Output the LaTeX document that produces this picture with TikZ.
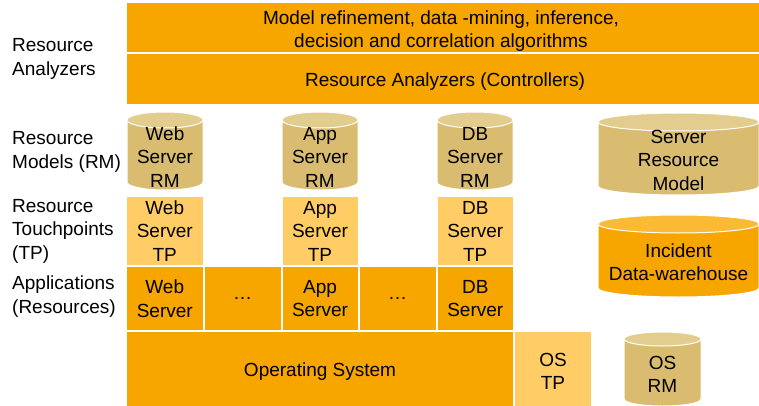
\documentclass[tikz,border=0pt]{standalone}
\usepackage{fontspec}
\setmainfont{Liberation Sans}
\definecolor{layer}{RGB}{247,166,0}
\definecolor{touch}{RGB}{255,204,102}
\definecolor{model}{RGB}{217,188,112}
\definecolor{modeltop}{RGB}{227,205,142}
\definecolor{storetop}{RGB}{250,186,52}
\tikzset{
  txt/.style={font=\fontsize{19}{23.5}\selectfont, align=center, inner sep=0pt},
  box/.style={txt, draw=white, line width=2pt, fill=layer},
  tpbox/.style={box, fill=touch},
  side/.style={txt, align=left, anchor=west},
}
% drum: centre x, top y, bottom y, x radius, y radius, body colour, lid colour
\newcommand{\drum}[7]{%
  \filldraw[draw=white, line width=1pt, fill=#6]
    (#1-#4,#2+#5) -- (#1-#4,#3-#5)
    arc[start angle=180, end angle=0, x radius=#4, y radius=#5]
    -- (#1+#4,#2+#5)
    arc[start angle=0, end angle=-180, x radius=#4, y radius=#5] -- cycle;
  \filldraw[draw=white, line width=1pt, fill=#7] (#1,#2+#5) ellipse[x radius=#4, y radius=#5];
}

\begin{document}
\begin{tikzpicture}[x=1pt, y=-1pt]
    \useasboundingbox (0,0) rectangle (759,406);

    % left hand labels
    \node[side] (lblana) at (12,59) {Resource\\Analyzers};
    \node[side] (lblrm) at (12,152) {Resource\\Models (RM)};
    \node[side] (lbltp) at (12,231) {Resource\\Touchpoints\\(TP)};
    \node[side] (lblapp) at (12,296.5) {Applications\\(Resources)};

    % analyzer bands
    \node[box, minimum width=635, minimum height=51.5] (algo) at (443.5,27.75) {};
    \node[box, minimum width=635, minimum height=51.5] (ctrl) at (443.5,79.25) {};
    \node[txt] (algotext) at (441,31) {Model refinement, data -mining, inference,\\decision and correlation algorithms};
    \node[txt] (ctrltext) at (445,82) {Resource Analyzers (Controllers)};

    % resource models
    \drum{165}{112}{190}{38}{8}{model}{modeltop}
    \drum{320}{112}{190}{38}{8}{model}{modeltop}
    \drum{475}{112}{190}{38}{8}{model}{modeltop}
    \drum{678.5}{113}{195}{80.5}{9}{model}{modeltop}
    \drum{678.5}{215}{297}{80.5}{9}{layer}{storetop}
    \drum{662.5}{332}{406}{38.5}{7}{model}{modeltop}
    \node[txt] (webrm) at (165,157) {Web\\Server\\RM};
    \node[txt] (apprm) at (320,157) {App\\Server\\RM};
    \node[txt] (dbrm) at (475,157) {DB\\Server\\RM};
    \node[txt] (srvrm) at (678.5,160) {Server\\Resource\\Model};
    \node[txt] (store) at (678.5,262) {Incident\\Data-warehouse};
    \node[txt] (osrm) at (662.5,374.5) {OS\\RM};

    % touchpoints
    \node[tpbox, minimum width=77.5, minimum height=70] (webtp) at (164.75,231) {Web\\Server\\TP};
    \node[tpbox, minimum width=77, minimum height=70] (apptp) at (320,231) {App\\Server\\TP};
    \node[tpbox, minimum width=77.5, minimum height=70] (dbtp) at (475.25,231) {DB\\Server\\TP};

    % applications
    \node[box, minimum width=77.5, minimum height=65] (websrv) at (164.75,298.5) {Web\\Server};
    \node[box, minimum width=78, minimum height=65] (more1) at (242.5,298.5) {…};
    \node[box, minimum width=77, minimum height=65] (appsrv) at (320,298.5) {App\\Server};
    \node[box, minimum width=78, minimum height=65] (more2) at (397.5,298.5) {…};
    \node[box, minimum width=77.5, minimum height=65] (dbsrv) at (475.25,298.5) {DB\\Server};

    % operating system
    \node[box, minimum width=388, minimum height=77] (os) at (320,369.5) {};
    \node[tpbox, minimum width=78, minimum height=77] (ostp) at (553,369.5) {};
    \node[txt] (ostext) at (320,371.5) {Operating System};
    \node[txt] (osttext) at (553,371.5) {OS\\TP};
\end{tikzpicture}
\end{document}
